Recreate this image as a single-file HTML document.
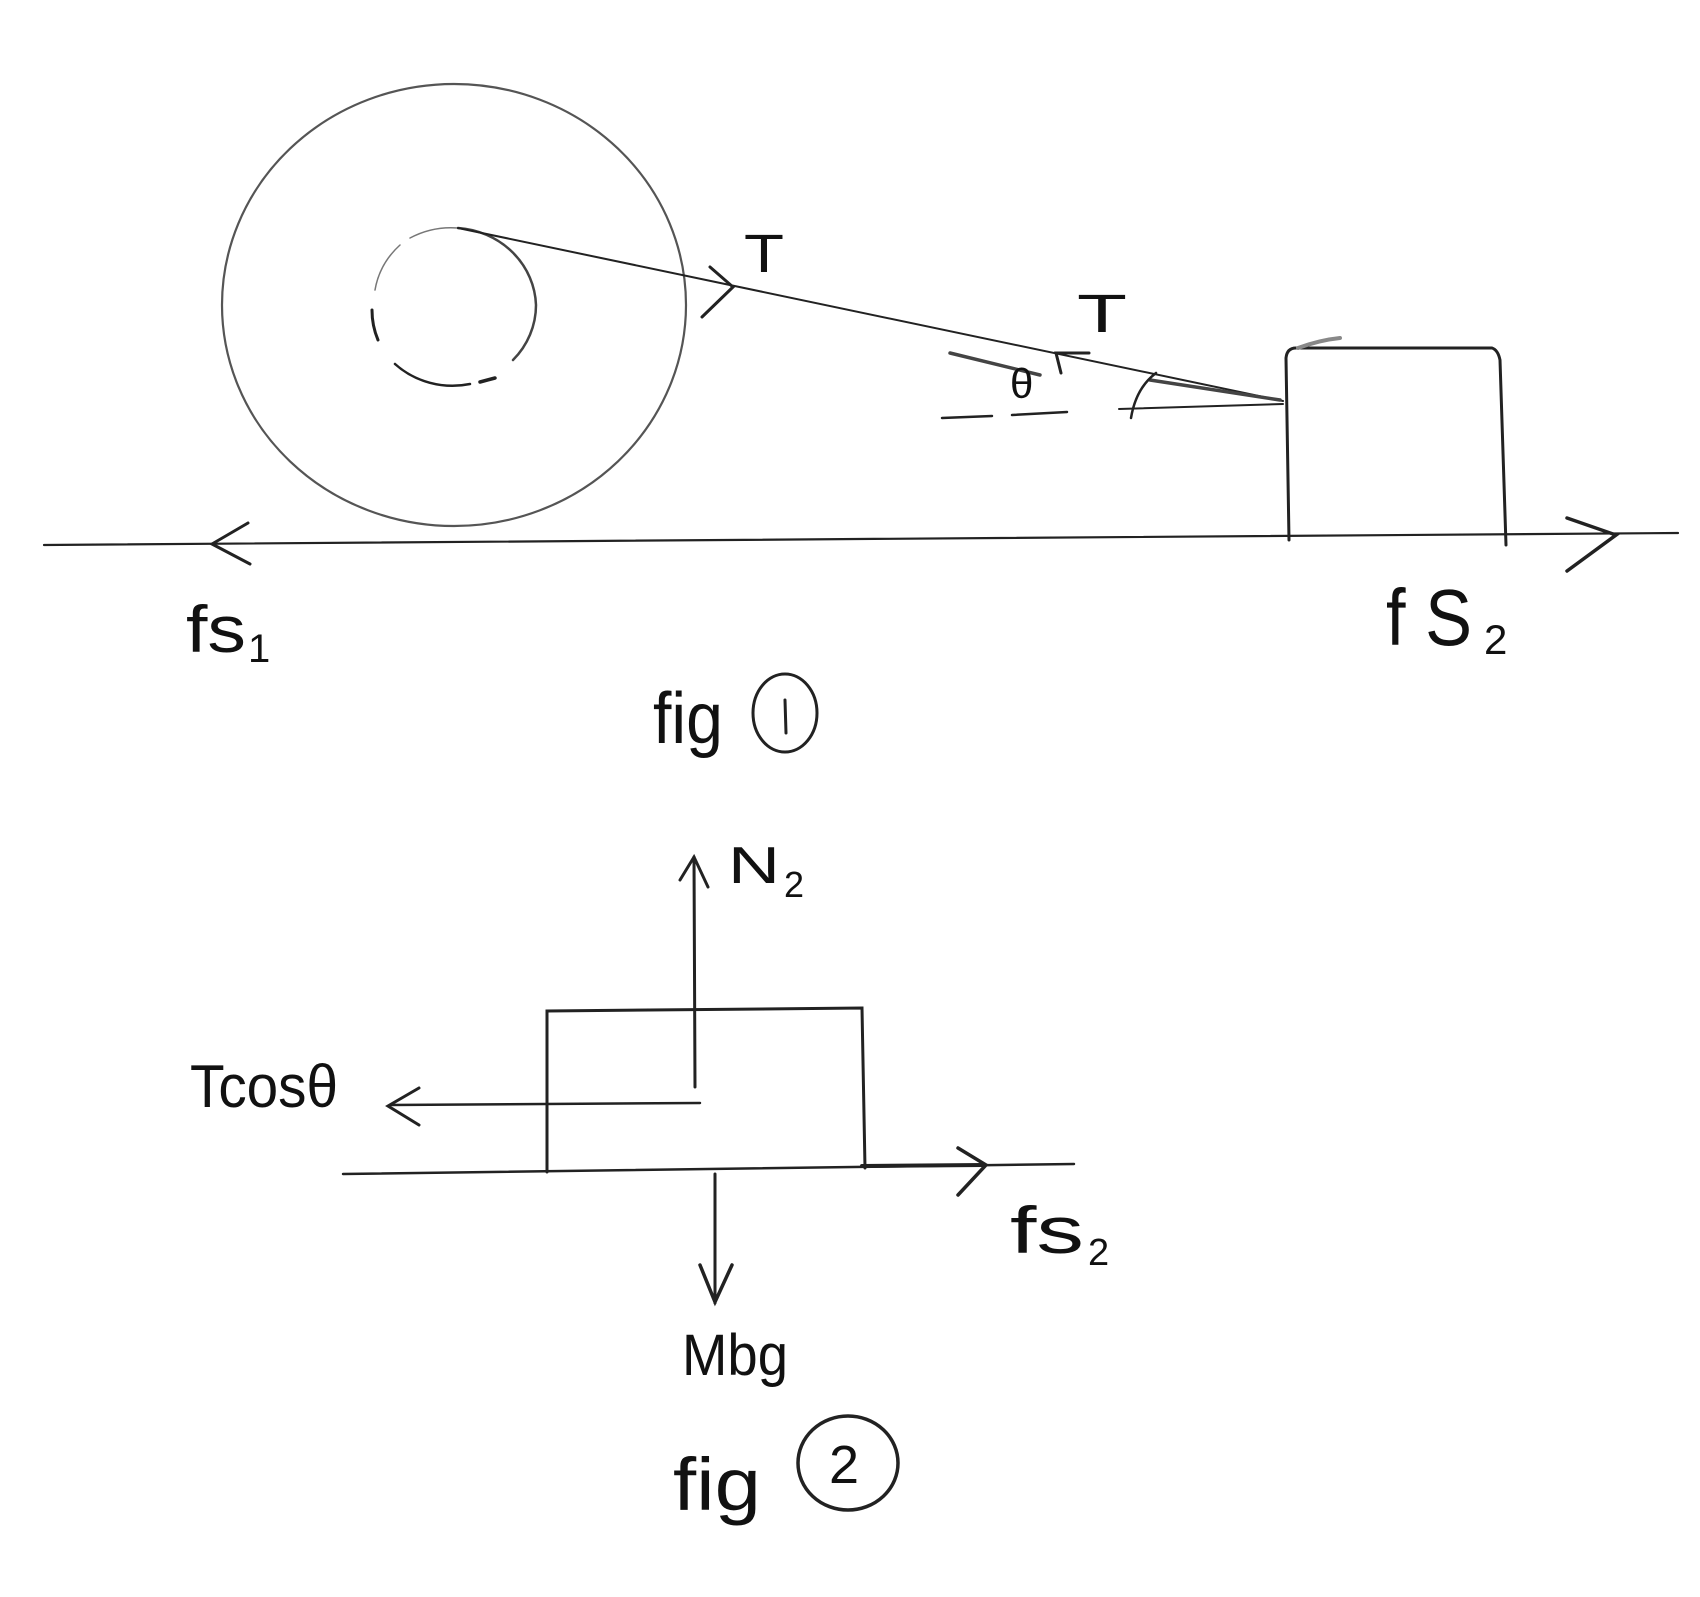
<!DOCTYPE html>
<html><head><meta charset="utf-8"><style>
html,body{margin:0;padding:0;background:#fff;}
svg{display:block;}
text{font-family:"Liberation Sans",sans-serif;fill:#111;}
</style></head><body>
<svg width="1700" height="1597" viewBox="0 0 1700 1597" xmlns="http://www.w3.org/2000/svg">
<g fill="none" stroke="#222" stroke-linecap="round">
<ellipse cx="454" cy="305" rx="232" ry="221" stroke="#555" stroke-width="2.2"/>
<path d="M458 228 A84 80 0 0 1 536 305 A84 80 0 0 1 513 360" stroke="#444" stroke-width="2.5"/>
<path d="M495 378 L480 382" stroke-width="3.5"/>
<path d="M470 384 A84 80 0 0 1 395 364" stroke-width="2.5"/>
<path d="M378 340 A84 80 0 0 1 372 310" stroke-width="3"/>
<path d="M375 290 A84 80 0 0 1 400 245" stroke="#777" stroke-width="1.5"/>
<path d="M410 238 A84 80 0 0 1 458 228" stroke="#777" stroke-width="1.5"/>
<path d="M458 228 L1283 401" stroke-width="2"/>
<path d="M950 353 L1040 375" stroke-width="3.5" stroke="#444"/>
<path d="M1150 380 L1280 400" stroke-width="3.5" stroke="#444"/>
<path d="M710 267 L733 287 L702 317" stroke-width="3"/>
<path d="M1089 353 L1056 353 L1061 373" stroke-width="3"/>
<path d="M942 418 L992 416 M1012 415 L1067 412" stroke-width="2.5"/>
<path d="M1119 409 L1283 404" stroke-width="2"/>
<path d="M1131 418 Q1136 388 1156 373" stroke-width="2.5"/>
<path d="M1289 540 L1286 358 Q1287 348 1296 348 L1492 348 Q1498 350 1500 360 L1506 545" stroke-width="3"/>
<path d="M1298 348 Q1320 340 1340 338" stroke="#888" stroke-width="4"/>
<path d="M44 545 L1678 533" stroke-width="2.2"/>
<path d="M248 523 L212 544 L250 564" stroke-width="3"/>
<path d="M1567 518 L1616 535 L1567 571" stroke-width="3.5"/>
<ellipse cx="785" cy="713" rx="32" ry="39" stroke-width="3"/>
<path d="M785 700 L786 733" stroke-width="3"/>
<path d="M547 1172 L547 1011 L862 1008 L865 1168" stroke-width="3"/>
<path d="M695 1087 L694 857" stroke-width="3"/>
<path d="M680 880 L694 857 L708 887" stroke-width="3"/>
<path d="M700 1103 L390 1105" stroke-width="2.5"/>
<path d="M419 1088 L388 1106 L419 1125" stroke-width="3"/>
<path d="M343 1174 L1074 1164" stroke-width="2.5"/>
<path d="M862 1166 L984 1165" stroke-width="4"/>
<path d="M958 1148 L986 1165 L958 1195" stroke-width="3.5"/>
<path d="M715 1174 L715 1303" stroke-width="3"/>
<path d="M700 1265 L715 1302 L732 1265" stroke-width="3.5"/>
<ellipse cx="848" cy="1463" rx="50" ry="47" stroke-width="3.5"/>
</g>
<text x="744" y="272" font-size="54" textLength="40" lengthAdjust="spacingAndGlyphs">T</text>
<text x="1077" y="332" font-size="54" textLength="50" lengthAdjust="spacingAndGlyphs">T</text>
<text x="1010" y="398" font-size="42">θ</text>
<text x="186" y="652" font-size="66" textLength="60" lengthAdjust="spacingAndGlyphs">fs</text>
<text x="248" y="662" font-size="40">1</text>
<text x="1386" y="645" font-size="80" textLength="86" lengthAdjust="spacingAndGlyphs">f S</text>
<text x="1484" y="654" font-size="42">2</text>
<text x="653" y="743" font-size="72" textLength="70" lengthAdjust="spacingAndGlyphs">fig</text>
<text x="728" y="883" font-size="52" textLength="52" lengthAdjust="spacingAndGlyphs">N</text>
<text x="784" y="897" font-size="36">2</text>
<text x="190" y="1107" font-size="60" textLength="148" lengthAdjust="spacingAndGlyphs">Tcosθ</text>
<text x="1010" y="1253" font-size="66" textLength="74" lengthAdjust="spacingAndGlyphs">fs</text>
<text x="1088" y="1265" font-size="38">2</text>
<text x="682" y="1375" font-size="58" textLength="106" lengthAdjust="spacingAndGlyphs">Mbg</text>
<text x="673" y="1510" font-size="74" textLength="88" lengthAdjust="spacingAndGlyphs">fig</text>
<text x="829" y="1483" font-size="54">2</text>
</svg>
</body></html>
